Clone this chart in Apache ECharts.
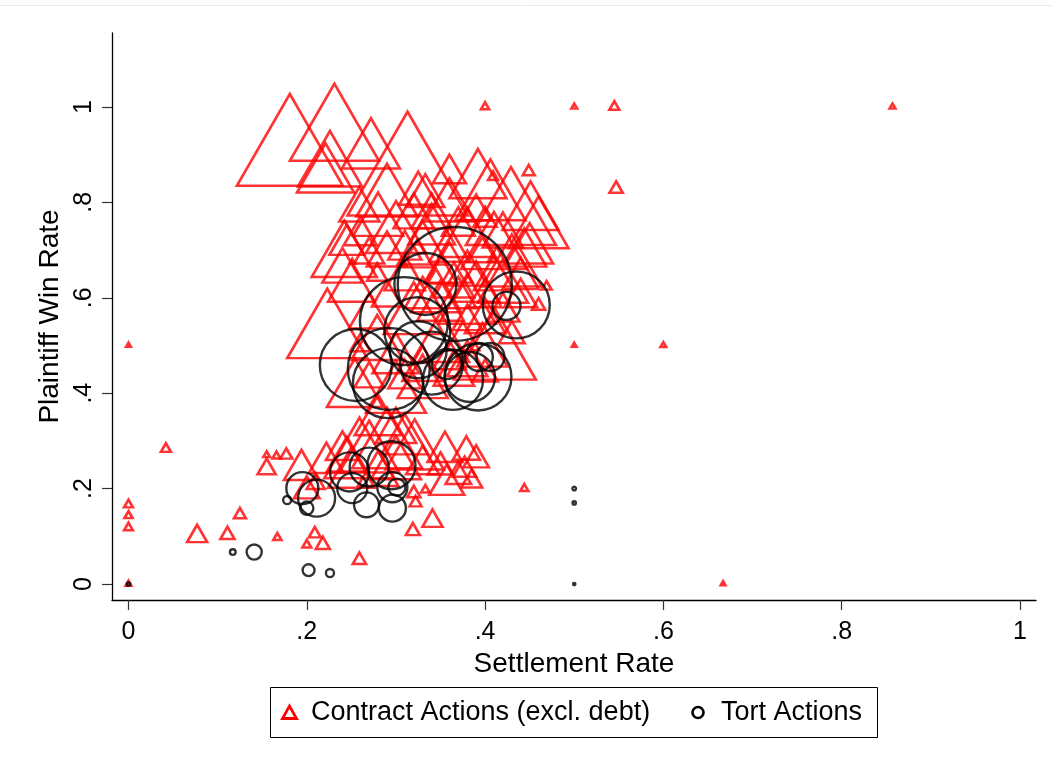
<!DOCTYPE html>
<html>
<head>
<meta charset="utf-8">
<script src="https://cdn.jsdelivr.net/npm/echarts@6/dist/echarts.min.js"></script>
<style>
  html, body { margin: 0; padding: 0; background: #fff; }
  #chart { width: 1053px; height: 771px; }
</style>
</head>
<body>
<div id="chart"></div>
<script>
// Court-level outcomes: [settlement rate, plaintiff win rate, number of cases]
const contractActions = [
  [0.181, 0.899, 1030], [0.231, 0.941, 727], [0.226, 0.872, 376], [0.221, 0.855, 298],
  [0.272, 0.906, 309], [0.313, 0.845, 1322], [0.360, 0.860, 100], [0.392, 0.843, 298],
  [0.406, 0.805, 450], [0.429, 0.765, 744], [0.451, 0.776, 288], [0.449, 0.864, 13],
  [0.290, 0.807, 342], [0.325, 0.818, 133], [0.333, 0.813, 133], [0.409, 0.853, 9],
  [0.400, 0.763, 49], [0.397, 0.692, 77], [0.245, 0.711, 112], [0.242, 0.683, 388],
  [0.259, 0.784, 147], [0.223, 0.522, 588], [0.279, 0.501, 248], [0.411, 0.478, 617],
  [0.397, 0.486, 230], [0.444, 0.692, 178], [0.240, 0.656, 147], [0.251, 0.675, 3],
  [0.254, 0.405, 288], [0.460, 0.583, 16], [0.469, 0.623, 9], [0.324, 0.683, 94],
  [0.279, 0.648, 37], [0.413, 0.686, 27],
  [0.300, 0.395, 330], [0.330, 0.420, 230], [0.365, 0.440, 150], [0.350, 0.500, 300],
  [0.320, 0.560, 330], [0.345, 0.600, 230], [0.365, 0.625, 150], [0.380, 0.580, 300],
  [0.400, 0.550, 150], [0.420, 0.620, 230], [0.300, 0.470, 200], [0.270, 0.560, 150],
  [0.260, 0.500, 37], [0.290, 0.600, 83], [0.310, 0.640, 150], [0.375, 0.510, 100],
  [0.430, 0.520, 60], [0.440, 0.600, 100],
  [0.350, 0.580, 200], [0.370, 0.600, 120], [0.390, 0.620, 200], [0.410, 0.640, 150],
  [0.360, 0.660, 200], [0.330, 0.600, 120], [0.400, 0.600, 100], [0.380, 0.550, 80],
  [0.420, 0.570, 100], [0.440, 0.640, 120], [0.450, 0.700, 200], [0.340, 0.740, 200],
  [0.320, 0.770, 150], [0.370, 0.750, 100], [0.310, 0.700, 100], [0.290, 0.690, 150],
  [0.260, 0.730, 100], [0.250, 0.620, 200],
  [0.330, 0.450, 150], [0.360, 0.470, 100], [0.310, 0.430, 100], [0.380, 0.460, 150],
  [0.270, 0.430, 80], [0.400, 0.440, 60],
  [0.430, 0.660, 330], [0.410, 0.700, 400], [0.380, 0.720, 300], [0.360, 0.700, 150],
  [0.330, 0.700, 230], [0.300, 0.730, 330], [0.280, 0.760, 230], [0.270, 0.690, 83],
  [0.340, 0.770, 150], [0.360, 0.790, 230], [0.390, 0.780, 83], [0.420, 0.730, 150],
  [0.460, 0.740, 330], [0.350, 0.650, 100], [0.380, 0.650, 150],
  [0.259, 0.264, 450], [0.245, 0.260, 147], [0.321, 0.275, 309], [0.355, 0.277, 112],
  [0.379, 0.277, 67], [0.377, 0.239, 49], [0.357, 0.208, 112], [0.341, 0.132, 37],
  [0.319, 0.111, 18], [0.322, 0.170, 13], [0.333, 0.197, 7], [0.270, 0.270, 330],
  [0.290, 0.285, 450], [0.300, 0.250, 230], [0.310, 0.300, 200], [0.280, 0.230, 150],
  [0.330, 0.250, 100], [0.250, 0.230, 200], [0.240, 0.280, 100], [0.200, 0.195, 60],
  [0.210, 0.210, 30], [0.350, 0.245, 60], [0.370, 0.225, 60], [0.390, 0.260, 60],
  [0.385, 0.215, 40], [0.320, 0.190, 16], [0.300, 0.320, 150], [0.280, 0.340, 200],
  [0.194, 0.239, 112], [0.222, 0.254, 112], [0.155, 0.241, 30], [0.155, 0.270, 4],
  [0.166, 0.268, 6], [0.177, 0.270, 13],
  [0.259, 0.050, 16], [0.218, 0.082, 18], [0.209, 0.105, 13], [0.200, 0.082, 7],
  [0.167, 0.097, 6], [0.111, 0.103, 18], [0.077, 0.100, 37], [0.125, 0.145, 13],
  [0.042, 0.283, 9], [0.000, 0.166, 7], [0.000, 0.143, 6], [0.000, 0.118, 7],
  [0.444, 0.200, 6],
  [0.400, 1.000, 6], [0.500, 1.000, 3], [0.545, 1.000, 9], [0.857, 1.000, 3],
  [0.547, 0.828, 16], [0.000, 0.500, 2], [0.500, 0.500, 2], [0.600, 0.500, 3],
  [0.667, 0.000, 2], [0.000, 0.000, 3]
];

const tortActions = [
  [0.366, 0.629, 1193], [0.333, 0.629, 353], [0.435, 0.585, 412], [0.424, 0.583, 72],
  [0.255, 0.459, 476], [0.309, 0.551, 711], [0.292, 0.451, 617], [0.291, 0.421, 450],
  [0.324, 0.532, 400], [0.325, 0.491, 298], [0.340, 0.463, 364], [0.364, 0.428, 331],
  [0.357, 0.461, 83], [0.392, 0.434, 412], [0.383, 0.434, 230], [0.406, 0.476, 72],
  [0.393, 0.476, 72],
  [0.195, 0.201, 94], [0.211, 0.180, 126], [0.200, 0.159, 16], [0.178, 0.176, 6],
  [0.248, 0.235, 140], [0.270, 0.245, 140], [0.295, 0.249, 212], [0.251, 0.201, 83],
  [0.267, 0.166, 57], [0.296, 0.159, 67], [0.301, 0.203, 27], [0.296, 0.203, 83],
  [0.117, 0.067, 3], [0.141, 0.067, 21], [0.202, 0.029, 13], [0.226, 0.023, 6],
  [0.000, 0.000, 1], [0.500, 0.200, 1.2], [0.500, 0.170, 1], [0.500, 0.000, 0.5]
];

const tickValues = [0, 0.2, 0.4, 0.6, 0.8, 1];
const tickLabels = ['0', '.2', '.4', '.6', '.8', '1'];

const FONT = "'Liberation Sans', Arial, Helvetica, sans-serif";
const RED = '#ff0000';
// marker width grows with the square root of the case count (area-weighted)
const SCALE = 3.3;

function tickText(v) {
  const i = tickValues.findIndex(t => Math.abs(t - v) < 1e-9);
  return i >= 0 ? tickLabels[i] : '';
}

const contractData = contractActions.map(p => {
  const w = SCALE * Math.sqrt(p[2]);
  const h = w * 0.866;
  return { value: p, symbolSize: [w, h], symbolOffset: [0, -h / 6] };
});
const tortData = tortActions.map(p => ({
  value: p, symbolSize: SCALE * Math.sqrt(p[2])
}));

const axisCommon = {
  type: 'value',
  splitLine: { show: false },
  axisLine: { show: true, onZero: false, lineStyle: { color: '#000', width: 1.3 } },
  axisTick: { show: true, inside: false, length: 10, customValues: tickValues,
              lineStyle: { color: '#333', width: 1.2 } },
  nameLocation: 'middle',
  nameTextStyle: { fontFamily: FONT, fontSize: 28, color: '#000' }
};

const chart = echarts.init(document.getElementById('chart'), null, { renderer: 'canvas' });
chart.setOption({
  animation: false,
  backgroundColor: '#fff',
  grid: { left: 112, right: 17, top: 33, bottom: 171 },
  xAxis: Object.assign({}, axisCommon, {
    min: -0.0185, max: 1.018,
    name: 'Settlement Rate', nameGap: 44,
    axisLabel: { customValues: tickValues, formatter: tickText, margin: 20,
                 fontFamily: FONT, fontSize: 25, color: '#000' }
  }),
  yAxis: Object.assign({}, axisCommon, {
    min: -0.0335, max: 1.155,
    name: 'Plaintiff Win Rate', nameGap: 34, nameRotate: 90,
    axisLabel: { customValues: tickValues, formatter: tickText, margin: 15, rotate: 90,
                 fontFamily: FONT, fontSize: 25, color: '#000' }
  }),
  series: [
    {
      name: 'Contract Actions (excl. debt)',
      type: 'scatter',
      symbol: 'triangle',
      silent: true,
      itemStyle: { color: 'rgba(0,0,0,0)', borderColor: RED, borderWidth: 2.6 },
      data: contractData
    },
    {
      name: 'Tort Actions',
      type: 'scatter',
      symbol: 'circle',
      silent: true,
      itemStyle: { color: 'rgba(0,0,0,0)', borderColor: '#000', borderWidth: 2.4 },
      data: tortData
    }
  ],
  graphic: [
    { type: 'line', shape: { x1: 0, y1: 5.5, x2: 1053, y2: 5.5 },
      style: { stroke: '#ececec', lineWidth: 1 } },
    { type: 'rect', shape: { x: 270.5, y: 687.5, width: 607, height: 50 },
      style: { fill: '#fff', stroke: '#000', lineWidth: 1 } },
    { type: 'polygon', shape: { points: [[282.5, 718.5], [296.5, 718.5], [289.5, 706]] },
      style: { fill: 'none', stroke: RED, lineWidth: 2.8 } },
    { type: 'text', x: 311, y: 713,
      style: { text: 'Contract Actions (excl. debt)', fill: '#000', font: '27px ' + FONT,
               textAlign: 'left', textVerticalAlign: 'middle' } },
    { type: 'circle', shape: { cx: 698, cy: 712.5, r: 5.5 },
      style: { fill: 'none', stroke: '#000', lineWidth: 2.6 } },
    { type: 'text', x: 721, y: 713,
      style: { text: 'Tort Actions', fill: '#000', font: '27px ' + FONT,
               textAlign: 'left', textVerticalAlign: 'middle' } }
  ]
});
</script>
</body>
</html>
